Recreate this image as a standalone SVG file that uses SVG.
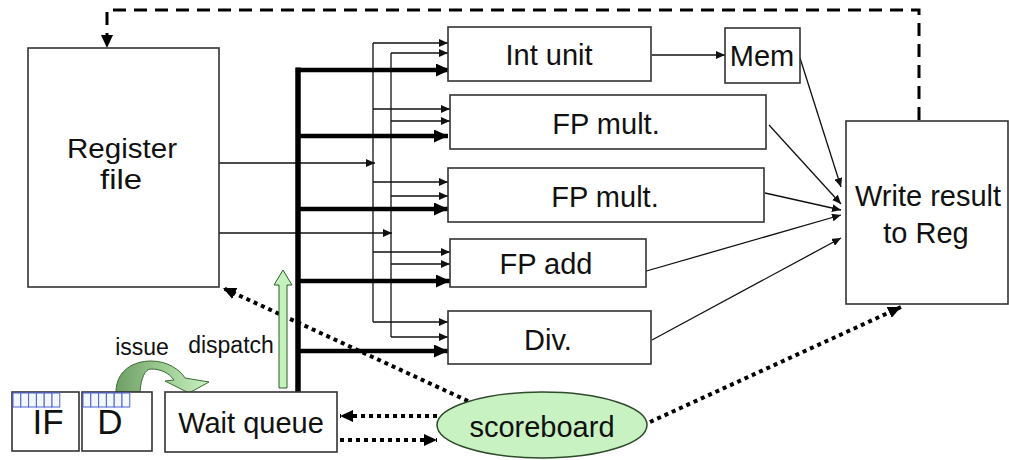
<svg xmlns="http://www.w3.org/2000/svg" width="1009" height="460" viewBox="0 0 1009 460">
  <defs>
    <style>
      .box { fill: #ffffff; stroke: #333333; stroke-width: 1.6; }
      .lbl { font-family: "Liberation Sans", Arial, sans-serif; font-size: 29px; fill: #111111; text-anchor: middle; }
      .reg { font-size: 27px; }
      .small { font-size: 23px; }
      .big { font-size: 35px; }
      .thin { fill: none; stroke: #111111; stroke-width: 1.3; }
      .thick { fill: none; stroke: #000000; stroke-width: 4.5; }
      .dot { fill: none; stroke: #000000; stroke-width: 4; stroke-dasharray: 4 4; }
      .dash { fill: none; stroke: #000000; stroke-width: 3; stroke-dasharray: 13 8; }
      .cell { fill: #f4f7ff; stroke: #4a62d8; stroke-width: 1; }
    </style>
    <marker id="ah-thin" markerUnits="userSpaceOnUse" markerWidth="9" markerHeight="8" refX="9" refY="4" orient="auto">
      <path d="M0,0 L9,4 L0,8 z" fill="#111111"/>
    </marker>
    <marker id="ah-thick" markerUnits="userSpaceOnUse" markerWidth="14" markerHeight="13" refX="14" refY="6.5" orient="auto">
      <path d="M0,0 L14,6.5 L0,13 z" fill="#000000"/>
    </marker>
    <marker id="ah-dot" markerUnits="userSpaceOnUse" markerWidth="13" markerHeight="12" refX="13" refY="6" orient="auto">
      <path d="M0,0 L13,6 L0,12 z" fill="#000000"/>
    </marker>
    <linearGradient id="issue-fill" x1="0" y1="0" x2="1" y2="0">
      <stop offset="0" stop-color="#6f9e66"/>
      <stop offset="0.5" stop-color="#9ccc92"/>
      <stop offset="1" stop-color="#c9f0c2"/>
    </linearGradient>
  </defs>

  <!-- connectors -->
  <g id="connectors">
    <!-- write-back path to the register file -->
    <path class="dash" d="M919,120 V10 H107 V36"/>
    <path d="M101,35 L113,35 L107,48 z" fill="#000000"/>

    <!-- operand line A from the register file -->
    <path class="thin" d="M219,163 H375" marker-end="url(#ah-thin)"/>
    <path class="thin" d="M373,43 V322"/>
    <path class="thin" d="M373,43 H448" marker-end="url(#ah-thin)"/>
    <path class="thin" d="M373,109 H450" marker-end="url(#ah-thin)"/>
    <path class="thin" d="M373,182 H448" marker-end="url(#ah-thin)"/>
    <path class="thin" d="M373,252 H450" marker-end="url(#ah-thin)"/>
    <path class="thin" d="M373,322 H448" marker-end="url(#ah-thin)"/>

    <!-- operand line B from the register file -->
    <path class="thin" d="M219,233 H392" marker-end="url(#ah-thin)"/>
    <path class="thin" d="M391,53 V337"/>
    <path class="thin" d="M391,53 H448" marker-end="url(#ah-thin)"/>
    <path class="thin" d="M391,121 H450" marker-end="url(#ah-thin)"/>
    <path class="thin" d="M391,196 H448" marker-end="url(#ah-thin)"/>
    <path class="thin" d="M391,264 H450" marker-end="url(#ah-thin)"/>
    <path class="thin" d="M391,337 H448" marker-end="url(#ah-thin)"/>

    <!-- dispatch bus from the wait queue -->
    <path fill="none" stroke="#000000" stroke-width="5.5" d="M298,392 V67.5"/>
    <path class="thick" d="M296,70 H450" marker-end="url(#ah-thick)"/>
    <path class="thick" d="M298,136 H448" marker-end="url(#ah-thick)"/>
    <path class="thick" d="M298,209 H448" marker-end="url(#ah-thick)"/>
    <path class="thick" d="M298,281 H450" marker-end="url(#ah-thick)"/>
    <path class="thick" d="M298,351 H448" marker-end="url(#ah-thick)"/>

    <!-- results -->
    <path class="thin" d="M652,55 H725" marker-end="url(#ah-thin)"/>
    <path class="thin" d="M800,58 L841,187" marker-end="url(#ah-thin)"/>
    <path class="thin" d="M769,125 L841,204" marker-end="url(#ah-thin)"/>
    <path class="thin" d="M765,193 L841,210" marker-end="url(#ah-thin)"/>
    <path class="thin" d="M643,272 L841,215" marker-end="url(#ah-thin)"/>
    <path class="thin" d="M652,340 L841,238" marker-end="url(#ah-thin)"/>

    <!-- scoreboard control -->
    <path class="dot" d="M468,401 L223,288" marker-end="url(#ah-dot)"/>
    <path class="dot" d="M437,416 H340" marker-end="url(#ah-dot)"/>
    <path class="dot" d="M340,440 H437" marker-end="url(#ah-dot)"/>
    <path class="dot" d="M650,422 L901,307" marker-end="url(#ah-dot)"/>

    <!-- issue: decode to wait queue -->
    <path fill="url(#issue-fill)" stroke="#3d6a36" stroke-width="1" d="M116,392 C116,371 133,361 151,361 C168,361 180,370 185,378 L209,382 L189,393 L165,381 L174,380 C169,373 161,369 151,369 C145,369 141,378 140,392 Z"/>
    <!-- dispatch: wait queue to the bus -->
    <path fill="#c4f2bc" stroke="#2f5a2a" stroke-width="1" d="M279,388 V285 H274 L283,270 L292,285 H287 V388 Z"/>
  </g>

  <g id="register-file">
    <rect class="box" x="28" y="48" width="191" height="239"/>
    <text class="lbl reg" x="122" y="158" textLength="110" lengthAdjust="spacingAndGlyphs">Register</text>
    <text class="lbl reg" x="121" y="189" textLength="42" lengthAdjust="spacingAndGlyphs">file</text>
  </g>

  <g id="int-unit">
    <rect class="box" x="448" y="27" width="203" height="54"/>
    <text class="lbl" x="549" y="65">Int unit</text>
  </g>

  <g id="mem">
    <rect class="box" x="725" y="28" width="75" height="55"/>
    <text class="lbl" x="762" y="66">Mem</text>
  </g>

  <g id="fp-mult-1">
    <rect class="box" x="450" y="95" width="316" height="54"/>
    <text class="lbl" x="606" y="134">FP mult.</text>
  </g>

  <g id="fp-mult-2">
    <rect class="box" x="448" y="168" width="316" height="54"/>
    <text class="lbl" x="605" y="207">FP mult.</text>
  </g>

  <g id="fp-add">
    <rect class="box" x="450" y="239" width="196" height="48"/>
    <text class="lbl" x="546" y="274">FP add</text>
  </g>

  <g id="div">
    <rect class="box" x="448" y="311" width="203" height="53"/>
    <text class="lbl" x="548" y="350">Div.</text>
  </g>

  <g id="write-result">
    <rect class="box" x="846" y="121" width="162" height="183"/>
    <text class="lbl" x="928" y="206">Write result</text>
    <text class="lbl" x="926" y="243">to Reg</text>
  </g>

  <g id="scoreboard">
    <ellipse cx="542" cy="425" rx="105" ry="33" fill="#c8f2c2" stroke="#2f4a2c" stroke-width="1.5"/>
    <text class="lbl" x="542" y="437">scoreboard</text>
  </g>

  <g id="wait-queue">
    <rect class="box" x="165" y="392" width="172" height="60"/>
    <text class="lbl" x="251" y="433">Wait queue</text>
  </g>

  <g id="if-stage">
    <rect class="box" x="12" y="392" width="67" height="59"/>
    <g>
      <rect class="cell" x="13" y="393" width="7.8" height="14"/>
      <rect class="cell" x="20.8" y="393" width="7.8" height="14"/>
      <rect class="cell" x="28.6" y="393" width="7.8" height="14"/>
      <rect class="cell" x="36.4" y="393" width="7.8" height="14"/>
      <rect class="cell" x="44.2" y="393" width="7.8" height="14"/>
      <rect class="cell" x="52" y="393" width="7.8" height="14"/>
    </g>
    <text class="lbl big" x="48" y="434">IF</text>
  </g>

  <g id="d-stage">
    <rect class="box" x="82" y="392" width="70" height="59"/>
    <g>
      <rect class="cell" x="83" y="393" width="7.8" height="14"/>
      <rect class="cell" x="90.8" y="393" width="7.8" height="14"/>
      <rect class="cell" x="98.6" y="393" width="7.8" height="14"/>
      <rect class="cell" x="106.4" y="393" width="7.8" height="14"/>
      <rect class="cell" x="114.2" y="393" width="7.8" height="14"/>
      <rect class="cell" x="122" y="393" width="7.8" height="14"/>
    </g>
    <text class="lbl big" x="110" y="434">D</text>
  </g>

  <g id="labels">
    <text class="lbl small" x="142" y="355">issue</text>
    <text class="lbl small" x="231" y="353">dispatch</text>
  </g>
</svg>
